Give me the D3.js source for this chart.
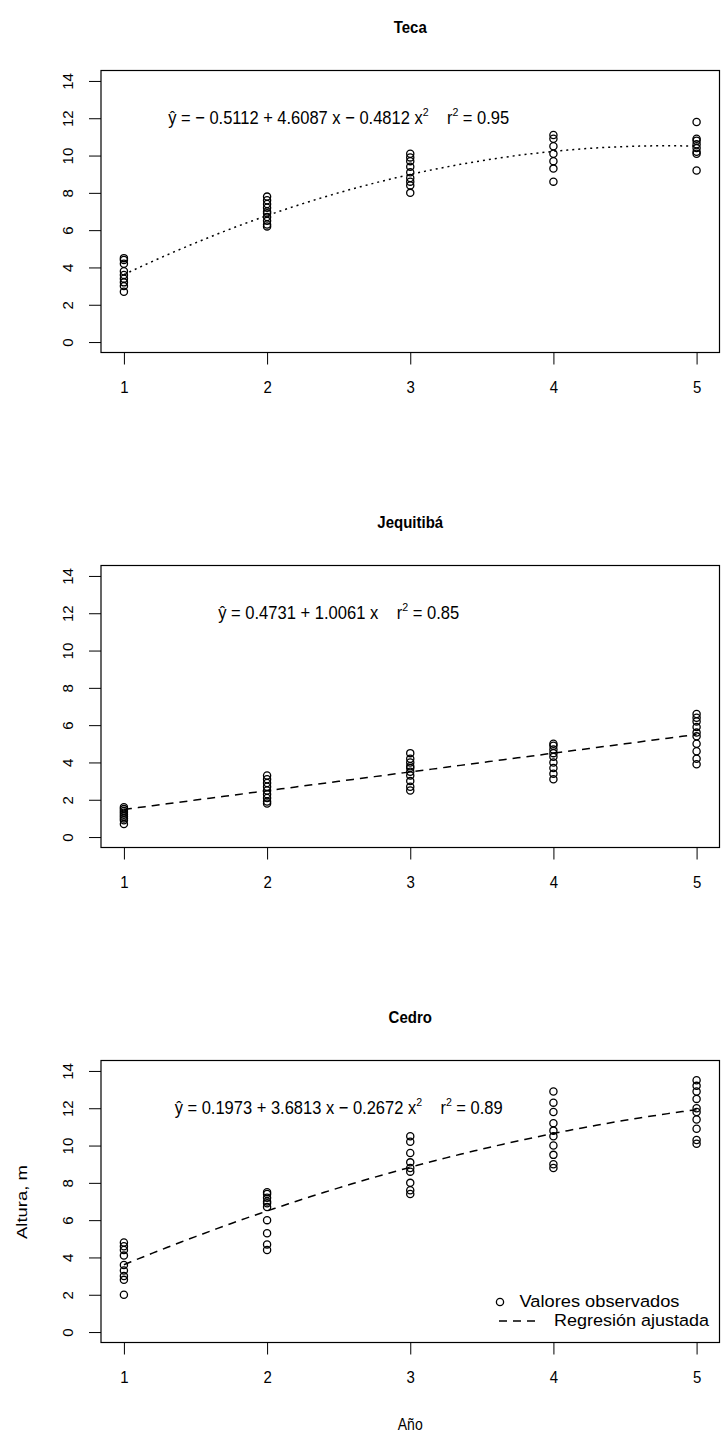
<!DOCTYPE html>
<html>
<head>
<meta charset="utf-8">
<script src="https://cdn.jsdelivr.net/npm/d3@7"></script>
<style>
  html, body { margin: 0; padding: 0; background: #fff; }
  svg { display: block; font-family: "Liberation Sans", Arial, Helvetica, sans-serif; }
</style>
</head>
<body>
<div id="chart"></div>
<script>
// ---------- data ----------
const years = [1, 2, 3, 4, 5];
const species = ["Teca", "Jequitibá", "Cedro"];
const yTicks = [0, 2, 4, 6, 8, 10, 12, 14];

// observed heights (m) per year
const tecaObs = [
  [4.5, 4.4, 4.2, 3.8, 3.6, 3.4, 3.2, 3.0, 2.7],
  [7.8, 7.6, 7.4, 7.2, 7.0, 6.9, 6.7, 6.5, 6.3, 6.2],
  [10.1, 9.9, 9.7, 9.4, 9.1, 8.8, 8.6, 8.4, 8.0],
  [11.1, 10.9, 10.5, 10.1, 9.7, 9.3, 8.6],
  [11.8, 10.9, 10.8, 10.6, 10.4, 10.2, 10.1, 9.2]
];
const jequitibaObs = [
  [1.6, 1.5, 1.4, 1.3, 1.2, 1.1, 1.0, 0.9, 0.7],
  [3.3, 3.1, 2.9, 2.7, 2.5, 2.3, 2.1, 1.9, 1.8],
  [4.5, 4.2, 4.0, 3.8, 3.7, 3.5, 3.3, 3.0, 2.7, 2.5],
  [5.0, 4.9, 4.7, 4.5, 4.3, 4.0, 3.7, 3.4, 3.1],
  [6.6, 6.4, 6.2, 5.9, 5.6, 5.4, 5.0, 4.6, 4.2, 3.9]
];
const cedroObs = [
  [4.8, 4.6, 4.4, 4.1, 3.6, 3.3, 3.0, 2.8, 2.0],
  [7.5, 7.4, 7.2, 7.0, 6.9, 6.7, 6.0, 5.3, 4.7, 4.4],
  [10.5, 10.2, 9.6, 9.1, 8.8, 8.6, 8.0, 7.6, 7.4],
  [12.9, 12.3, 11.8, 11.2, 10.8, 10.5, 10.0, 9.5, 9.0, 8.8],
  [13.5, 13.2, 12.9, 12.5, 12.0, 11.8, 11.4, 10.9, 10.3, 10.1]
];

// regression coefficients (b0, b1, b2) and r²
const tecaCoef = [-0.5112, 4.6087, -0.4812];
const jequitibaCoef = [0.4731, 1.0061];
const cedroCoef = [0.1973, 3.6813, -0.2672];
const r2Values = [0.95, 0.85, 0.89];
const lineTypes = ["dotted", "dashed", "dashed"];

const legendLabels = ["Valores observados", "Regresión ajustada"];
const xLabel = "Año";
const yLabel = "Altura, m";

// ---------- layout ----------
const W = 721, H = 1438;
const panelTops = [70.5, 565.5, 1060.5];
const panelH = 282;
const left = 101, right = 719.5;

const svg = d3.select("#chart").append("svg")
  .attr("width", W).attr("height", H);

const x = d3.scaleLinear().domain([0.84, 5.16]).range([left, right]);

const obsSets = [tecaObs, jequitibaObs, cedroObs];
const coefSets = [tecaCoef, jequitibaCoef, cedroCoef];

function fmt(v) { return Math.abs(v).toFixed(4); }
// vertical stretch about a baseline
const vstretch = (by, s) => `translate(0,${by}) scale(1,${s}) translate(0,${-by})`;

obsSets.forEach((obs, i) => {
  const top = panelTops[i], bottom = top + panelH;
  const y = d3.scaleLinear().domain([-0.56, 14.56]).range([bottom, top]);
  const g = svg.append("g");

  // title
  g.append("text")
    .attr("x", (left + right) / 2).attr("y", top - 37)
    .attr("text-anchor", "middle")
    .attr("font-weight", "bold").attr("font-size", 15)
    .attr("transform", vstretch(top - 37, 1.15))
    .text(species[i]);

  // axes
  const ya = g.append("g").attr("transform", `translate(${left},0)`)
    .call(d3.axisLeft(y).tickValues(yTicks).tickSize(12).tickPadding(0).tickFormat(d3.format("d")));
  ya.select(".domain").remove();
  ya.selectAll("line").attr("stroke", "#000");
  ya.selectAll("text")
    .attr("font-size", 15).attr("fill", "#000")
    .attr("font-family", "Liberation Sans, Arial, sans-serif")
    .attr("x", 0).attr("dy", null)
    .attr("text-anchor", "middle")
    .attr("transform", `translate(${68 - left},0) rotate(-90)`)
    .attr("y", 5);

  const xa = g.append("g").attr("transform", `translate(0,${bottom})`)
    .call(d3.axisBottom(x).tickValues(years).tickSize(12).tickPadding(0).tickFormat(d3.format("d")));
  xa.select(".domain").remove();
  xa.selectAll("line").attr("stroke", "#000");
  xa.selectAll("text")
    .attr("font-size", 15).attr("fill", "#000")
    .attr("font-family", "Liberation Sans, Arial, sans-serif")
    .attr("dy", null).attr("y", 41)
    .attr("transform", vstretch(41, 1.15));

  // box
  g.append("rect")
    .attr("x", left).attr("y", top)
    .attr("width", right - left).attr("height", panelH)
    .attr("fill", "none").attr("stroke", "#000").attr("stroke-width", 1.2);

  // points
  const pts = [];
  obs.forEach((vals, j) => vals.forEach(v => pts.push([years[j], v])));
  g.selectAll("circle.pt").data(pts).join("circle")
    .attr("class", "pt")
    .attr("cx", d => x(d[0])).attr("cy", d => y(d[1]))
    .attr("r", 3.6).attr("fill", "none")
    .attr("stroke", "#000").attr("stroke-width", 1.3);

  // fitted regression from the displayed coefficients
  const c = coefSets[i];
  const fx = d3.range(1, 5.0001, 0.05);
  const line = d3.line().x(d => x(d)).y(d => y(c.reduce((s, b, k) => s + b * Math.pow(d, k), 0)));
  g.append("path").datum(fx)
    .attr("d", line).attr("fill", "none")
    .attr("stroke", "#000").attr("stroke-width", 1.5)
    .attr("stroke-dasharray", lineTypes[i] === "dotted" ? "2,4" : "8,6");

  // equation
  const by = y(12) + 6;
  const eq = g.append("text")
    .attr("x", x(2.5)).attr("y", by)
    .attr("text-anchor", "middle")
    .attr("font-size", 14)
    .attr("transform", vstretch(by, 1.3));
  const sgn = v => (v < 0 ? " − " : " + ");
  let s0 = "ŷ = " + (c[0] < 0 ? "− " : "") + fmt(c[0]) + sgn(c[1]) + fmt(c[1]) + " x";
  eq.append("tspan").text(s0);
  if (c.length > 2) {
    eq.append("tspan").text(sgn(c[2]) + fmt(c[2]) + " x");
    eq.append("tspan").attr("dy", -6).attr("font-size", 9).text("2");
    eq.append("tspan").attr("dy", 6).text("\u00a0\u00a0\u00a0\u00a0r");
  } else {
    eq.append("tspan").text("\u00a0\u00a0\u00a0\u00a0r");
  }
  eq.append("tspan").attr("dy", -6).attr("font-size", 9).text("2");
  eq.append("tspan").attr("dy", 6).text(" = " + r2Values[i].toFixed(2));
  eq.attr("textLength", c.length > 2 ? (i === 0 ? 341 : 328) : 241)
    .attr("lengthAdjust", "spacingAndGlyphs");

  // legend in last panel
  if (i === 2) {
    const lg = g.append("g");
    lg.append("circle").attr("cx", 500).attr("cy", 1302).attr("r", 3.6)
      .attr("fill", "none").attr("stroke", "#000").attr("stroke-width", 1.3);
    lg.append("text").attr("x", 519.5).attr("y", 1307).attr("font-size", 15)
      .attr("transform", vstretch(1307, 1.12))
      .attr("textLength", 160).attr("lengthAdjust", "spacingAndGlyphs")
      .text(legendLabels[0]);
    lg.append("line").attr("x1", 499).attr("x2", 536).attr("y1", 1321).attr("y2", 1321)
      .attr("stroke", "#000").attr("stroke-width", 1.5).attr("stroke-dasharray", "8,6");
    lg.append("text").attr("x", 554).attr("y", 1326).attr("font-size", 15)
      .attr("transform", vstretch(1326, 1.12))
      .attr("textLength", 155).attr("lengthAdjust", "spacingAndGlyphs")
      .text(legendLabels[1]);
  }
});

// axis titles
svg.append("text").attr("x", (left + right) / 2).attr("y", 1430)
  .attr("text-anchor", "middle").attr("font-size", 14)
  .attr("transform", vstretch(1430, 1.15)).text(xLabel);
svg.append("text")
  .attr("transform", `translate(27,${(1071 + 1333) / 2}) rotate(-90)`)
  .attr("text-anchor", "middle").attr("font-size", 14)
  .attr("textLength", 74).attr("lengthAdjust", "spacingAndGlyphs")
  .text(yLabel);
</script>
</body>
</html>
